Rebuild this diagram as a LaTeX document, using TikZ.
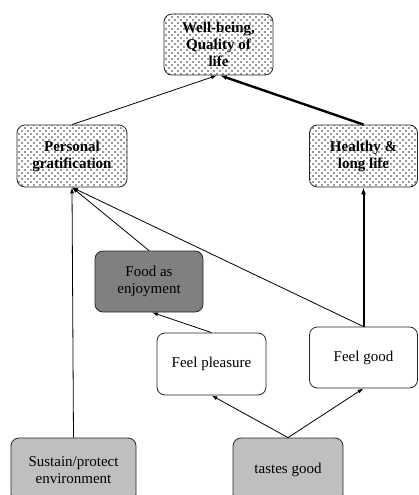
\documentclass[tikz,border=0pt]{standalone}
\usepackage{fontspec}
\setmainfont{Liberation Serif}
\usetikzlibrary{arrows.meta,patterns}
\pgfdeclarepatternformonly{stipple}{\pgfqpoint{-1pt}{-1pt}}{\pgfqpoint{7pt}{7pt}}{\pgfqpoint{6pt}{6pt}}{%
  \pgfpathcircle{\pgfqpoint{1pt}{1pt}}{0.85pt}%
  \pgfpathcircle{\pgfqpoint{4pt}{4pt}}{0.85pt}%
  \pgfusepath{fill}}
\begin{document}
\begin{tikzpicture}[x=1pt,y=-1pt,
  box/.style={draw=black!85,line width=0.8pt,rounded corners=8pt,inner sep=0pt,align=center,
    font=\fontsize{15}{17}\selectfont},
  dotbox/.style={box,pattern=stipple,pattern color=black!80,font=\fontsize{15}{17}\selectfont\bfseries},
  whitebox/.style={box,fill=white},
  darkbox/.style={box,fill=black!50},
  lightbox/.style={box,fill=black!25},
  arr/.style={-{Latex[length=6pt,width=4pt]},line width=0.8pt},
  thick arr/.style={-{Latex[length=7pt,width=5pt]},line width=2.4pt}]
\clip (0,0) rectangle (419,495);
\useasboundingbox (0,0) rectangle (419,495);
\node[dotbox,minimum width=109pt,minimum height=61pt] (wb) at (218.5,44.5) {Well-being,\\Quality of\\life};
\node[dotbox,minimum width=110pt,minimum height=62pt] (pg) at (72,156) {Personal\\gratification};
\node[dotbox,minimum width=108pt,minimum height=62pt] (hl) at (363.5,156) {Healthy \&\\long life};
\node[darkbox,minimum width=108pt,minimum height=61pt] (fe) at (149,281.5) {Food as\\enjoyment};
\node[whitebox,minimum width=109pt,minimum height=62pt] (fp) at (211.5,364) {Feel pleasure};
\node[whitebox,minimum width=108pt,minimum height=61pt] (fg) at (363.5,357.5) {Feel good};
\node[lightbox,minimum width=125pt,minimum height=64pt] (sp) at (73.5,470) {Sustain/protect\\environment};
\node[lightbox,minimum width=110pt,minimum height=64pt] (tg) at (288,470) {tastes good};
\draw[arr] (pg.north) -- ([xshift=-1.5pt]wb.south);
\draw[thick arr] (hl.north) -- ([xshift=1.5pt]wb.south);
\draw[arr] (fe.north) -- (pg.south);
\draw[arr] (fg.north) -- (pg.south);
\draw[arr] (sp.north) -- (pg.south);
\draw[thick arr,line width=2pt] (fg.north) -- (hl.south);
\draw[arr] (fp.north) -- ([xshift=3pt]fe.south);
\draw[arr] (tg.north) -- (fp.south);
\draw[arr] (tg.north) -- (fg.south);
\end{tikzpicture}
\end{document}
